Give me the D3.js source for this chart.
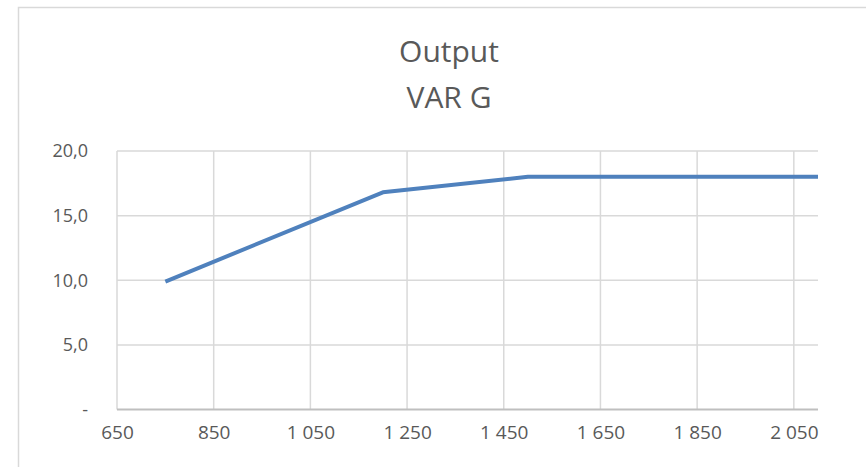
<!DOCTYPE html>
<html>
<head>
<meta charset="utf-8">
<script src="https://cdn.jsdelivr.net/npm/d3@7"></script>
<style>
  body { margin: 0; background: #fff; }
  svg { display: block; }
  text { font-family: "Open Sans", "Liberation Sans", sans-serif; fill: #595959; }
</style>
</head>
<body>
<svg width="866" height="467"></svg>
<script>
// chart values
var xValues = [750, 1200, 1500, 2100];
var yValues = [9.9, 16.8, 18.0, 18.0];
var xTicks = [650, 850, 1050, 1250, 1450, 1650, 1850, 2050];
var yTicks = [0, 5, 10, 15, 20];
var titleLines = ["Output", "VAR G"];

var WIDTH = 866, HEIGHT = 467;
var LEFT = 117, RIGHT = 818, TOP = 151, BOTTOM = 409.5;

var svg = d3.select("svg");

// outer chart border (runs off the window on the right and bottom)
svg.append("rect")
  .attr("x", 18.5).attr("y", 7.5)
  .attr("width", 900).attr("height", 500)
  .attr("fill", "none")
  .attr("stroke", "#d9d9d9")
  .attr("stroke-width", 1.5);

var x = d3.scaleLinear().domain([650, 2100]).range([LEFT, RIGHT]);
var y = d3.scaleLinear().domain([0, 20]).range([BOTTOM, TOP]);

// vertical gridlines
svg.append("g")
  .selectAll("line")
  .data(xTicks)
  .enter().append("line")
  .attr("x1", function(d) { return x(d); })
  .attr("x2", function(d) { return x(d); })
  .attr("y1", TOP).attr("y2", BOTTOM)
  .attr("stroke", "#d9d9d9")
  .attr("stroke-width", 1.5);

// horizontal gridlines
svg.append("g")
  .selectAll("line")
  .data(yTicks)
  .enter().append("line")
  .attr("x1", LEFT).attr("x2", RIGHT)
  .attr("y1", function(d) { return y(d); })
  .attr("y2", function(d) { return y(d); })
  .attr("stroke", function(d) { return d === 0 ? "#bfbfbf" : "#d9d9d9"; })
  .attr("stroke-width", function(d) { return d === 0 ? 2 : 1.5; });

// x axis labels
var xFmt = function(d) {
  var s = String(d);
  return s.length > 3 ? s.slice(0, s.length - 3) + " " + s.slice(-3) : s;
};
var gx = svg.append("g")
  .attr("transform", "translate(0," + BOTTOM + ")")
  .call(d3.axisBottom(x).tickValues(xTicks).tickSize(0).tickPadding(16).tickFormat(xFmt));
gx.select(".domain").remove();
gx.selectAll("text")
  .attr("font-size", 19)
  .attr("fill", "#595959");

// y axis labels
var yFmt = function(d) { return d === 0 ? "-" : d.toFixed(1).replace(".", ","); };
var gy = svg.append("g")
  .attr("transform", "translate(" + LEFT + ",0)")
  .call(d3.axisLeft(y).tickValues(yTicks).tickSize(0).tickPadding(29).tickFormat(yFmt));
gy.select(".domain").remove();
gy.selectAll("text")
  .attr("font-size", 18)
  .attr("fill", "#595959");

// data line
var line = d3.line()
  .x(function(d, i) { return x(xValues[i]); })
  .y(function(d) { return y(d); });
svg.append("path")
  .datum(yValues)
  .attr("d", line)
  .attr("fill", "none")
  .attr("stroke", "#4f81bd")
  .attr("stroke-width", 4)
  .attr("stroke-linejoin", "round");

// title
svg.append("g")
  .selectAll("text")
  .data(titleLines)
  .enter().append("text")
  .attr("x", 449)
  .attr("y", function(d, i) { return 62 + i * 46; })
  .attr("text-anchor", "middle")
  .attr("font-size", 30)
  .text(function(d) { return d; });
</script>
</body>
</html>
